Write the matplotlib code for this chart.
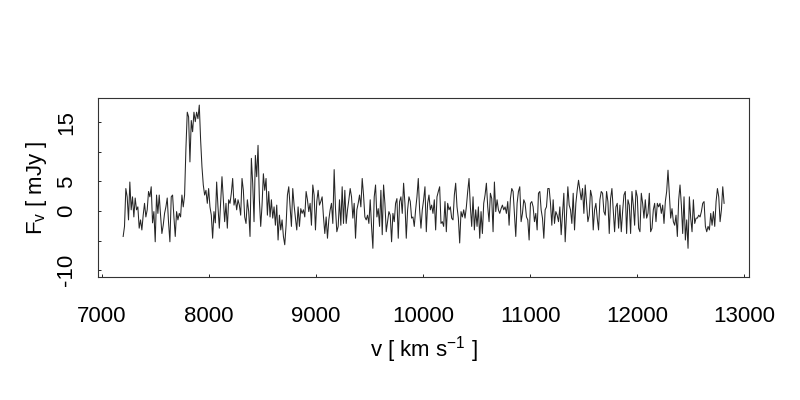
# spectrum plot, R style box with inward ticks
import numpy as np
import matplotlib
matplotlib.use("Agg")
import matplotlib.pyplot as plt

plt.rcParams['font.family'] = ['Liberation Sans', 'DejaVu Sans']
plt.rcParams['mathtext.default'] = 'regular'

# flux density in mJy
flux_a = [-4.3, -2.6, 3.8, 2.4, -1.5, 4.9, 0.2, 2.4, -1.0, 2.2, 0.2, 0.7, -2.9, -1.5, -3.2,
          -0.7, 1.3, -1.0, 0.2, 3.3, 2.4, 4.1, -2.0, -0.1, -5.2, 2.7, -0.4, 2.7, -0.7, -3.8,
          -2.4, -0.4, 0.7, 2.2, -2.0, -5.2, 2.4, 2.7, -1.0, -4.3, -0.1, -1.5, -0.4, -1.0, 2.7,
          0.7, 2.7, 10.6, 16.7, 15.9, 8.3, 15.3, 13.4, 16.7, 15.1, 16.7, 15.6, 17.9, 12.0, 7.5,
          4.4, 2.7, 3.5, 1.3, 3.8, 0.7, -0.7, -4.6, -0.1, -2.0, 4.9]
flux_b = [0.7, -2.9, 1.3, 5.8, 1.9, -1.8, 1.3, -2.9, 1.9, 1.3, 3.0, 5.5, 1.0, 2.1, 0.2,
          1.9, 1.0, -0.7, 5.5, 3.5, -1.0, -2.1, 1.9, -0.1, -4.3, 8.9, 4.7, -1.8, 9.4, 5.8,
          11.1, 1.9, -2.6, 1.0, 6.3, 3.5, 5.5, -0.7, 3.3, -1.0, 1.9, -1.2, 0.7, -2.4, 1.0,
          -4.9, -0.7, -3.2, -1.5, -4.3, -5.7, -2.4, 2.7, 4.1, 0.7, -2.6, 3.8, 1.0, -1.2, -3.2,
          0.7, -2.6, 0.4, -0.4, 0.2, -1.0, 3.3, 1.9, -0.1, 1.3, -2.4, 4.4, 2.7, -3.2, 1.6,
          3.5, 1.0]
flux_c = [1.6, 2.4, -1.0, -3.8, -1.0, -4.6, -1.5, 0.2, 1.3, -2.1, 7.0, 0.4, -3.5, -2.6, 1.9,
          -2.4, 4.1, -2.1, 3.5, -2.1, 0.2, 1.9, 3.8, 2.4, -1.2, 1.3, -4.6, 0.2, 1.3, 2.7,
          0.7, 5.5, 2.7, -1.0, -1.5, -0.7, -2.1, 1.9, -2.6, -6.3, 2.4, 4.4, -1.0, 0.4, -2.6,
          3.5, -4.0, 4.4, 1.3, -3.5, -1.8, -0.1, -0.7, -5.2, -0.4, -1.8, 1.3, 2.1, -4.6, 1.6,
          2.4, -0.4, 4.7, 1.3, -4.6, 0.2, 2.4, 1.6, -1.2, -1.0, -2.6, 0.2, 2.4, 5.5, 0.2,
          -2.9, 0.2]
flux_d = [1.9, 4.1, -3.5, 1.3, 2.7, 0.2, 1.0, -0.4, 1.9, -3.2, 2.4, 3.3, 4.1, -2.1, -1.8,
          -2.6, 1.6, -3.5, 1.3, 0.2, 0.7, -1.2, -1.5, 2.7, 4.7, 0.7, -1.2, -5.4, -0.1, -1.0,
          0.2, -1.2, 0.7, 3.3, 5.5, 0.7, -2.6, 2.4, -3.2, 0.2, -2.6, 0.7, -4.6, -0.1, -3.8,
          1.3, 2.7, 4.7, 0.7, -1.8, 3.0, 2.1, -3.5, 4.9, -0.1, 1.9, 0.2, -0.4, 0.4, 1.0,
          0.2, 0.7, -0.4, 1.6, -2.4, 2.1, 3.8, 3.3, -0.4, -4.3, 1.3, 3.3, 4.1, -1.8, -0.4,
          1.9, 1.3]
flux_e = [-1.0, -1.5, -4.9, 1.3, 1.6, 0.7, -1.8, -0.4, -3.2, 3.0, 3.3, 0.2, -1.2, -4.6, 0.2,
          0.7, 3.8, 3.8, 1.3, -2.4, 1.9, -2.1, -0.1, -0.7, -1.8, 0.7, -4.0, -0.4, 3.0, -5.2,
          -0.4, 4.1, 1.0, 0.2, -2.1, 3.0, -3.2, 1.3, 3.5, 5.2, 3.5, 1.9, 3.8, -0.4, 4.4,
          1.3, -1.8, -0.7, 3.5, 2.4, -3.2, 0.2, 1.3, -1.2, -3.2, 1.9, 3.3, 3.0, -0.1, -0.7,
          3.3, 1.6, -3.8, 2.1, 3.8, 0.2, -3.5, 0.7, 1.3, -2.9, 1.0, -3.5, -0.1, 2.7, 3.3,
          -3.8, 1.9]
flux_f = [1.0, -3.8, 3.3, 1.0, -2.4, 3.5, 2.4, -2.9, -3.5, 3.0, 1.3, -1.2, 1.9, -1.2, -0.4,
          3.0, -3.5, -2.9, 0.2, 1.3, -1.8, 1.3, 0.7, 1.3, -0.4, 1.0, -2.1, 1.6, 3.3, 6.9,
          3.0, -1.2, 0.4, -1.8, -2.4, -0.7, -4.3, 1.9, 4.4, 1.0, -3.8, 2.4, -4.9, -1.5, -6.3,
          2.4, -1.2, -3.5, 1.9, -2.1, -1.2, -1.2, -0.7, -1.0, -0.1, 1.3, 1.6, -2.6, -3.5, -2.6,
          -3.2, -0.4, -2.4, -0.1, -2.6, 1.6, 3.8, 2.4, -1.8, 0.2, 4.1, 1.3]

flux = np.array(flux_a + flux_b + flux_c + flux_d + flux_e + flux_f)

# evenly spaced velocity channels
v_start = 7200
v_end = 12812
vel = np.linspace(v_start, v_end, len(flux))

xticks = [7000, 8000, 9000, 10000, 11000, 12000, 13000]
yticks = [-10, -5, 0, 5, 10, 15]
ylabels = ['-10', '', '0', '5', '', '15']

fig = plt.figure(figsize=(8, 4), dpi=100)
ax = fig.add_axes([0.1225, 0.3075, 0.8138, 0.4475])

ax.plot(vel, flux, color='#262626', lw=0.75)

ax.set_xlim(6965, 13045)
ax.set_ylim(-11.15, 19.1)

ax.set_xticks(xticks)
ax.set_xticklabels([str(t) for t in xticks])
ax.set_yticks(yticks)
ax.set_yticklabels(ylabels, rotation=90, va='center')

ax.tick_params(direction='in', length=2.5, width=0.6, labelsize=16, colors='black')
ax.tick_params(axis='x', pad=21)
ax.tick_params(axis='y', pad=15)

for s in ax.spines.values():
    s.set_linewidth(0.8)
    s.set_color('#333333')

ax.set_xlabel(r'v [ km s$^{-1}$ ]', fontsize=16, labelpad=5)
ax.set_ylabel(r'F$_v$ [ mJy ]', fontsize=16, labelpad=5)

fig.savefig('out.png', dpi=100)
